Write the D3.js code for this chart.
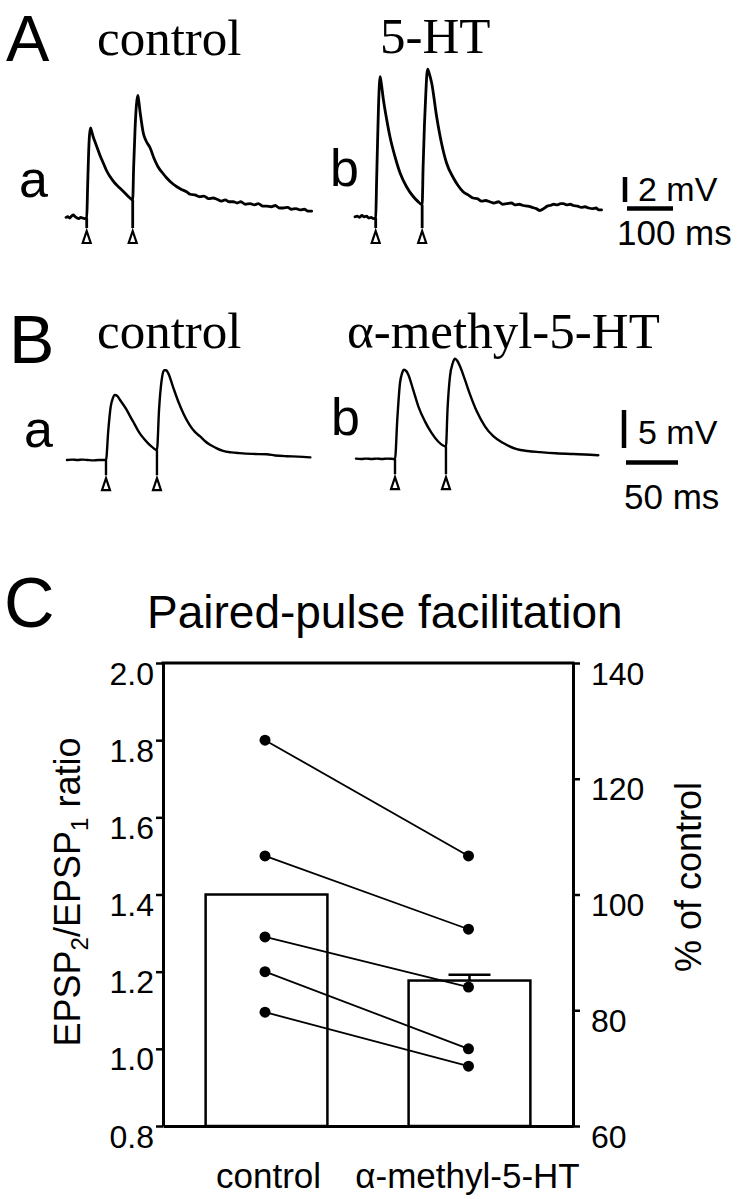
<!DOCTYPE html>
<html>
<head>
<meta charset="utf-8">
<script src="https://cdn.jsdelivr.net/npm/d3@7"></script>
<style>
  html, body { margin: 0; padding: 0; background: #fff; }
  svg { display: block; }
</style>
</head>
<body>
<script>
// ---------------- DATA ----------------
// Panel A traces: [time (ms), membrane potential (mV, relative to baseline)]
const traceAa = [
  [0,0.05],[4,0.1],[8,0.0],[12,0.15],[16,0.25],[20,0.1],[24,0.0],[28,-0.05],[32,0.05],[36,0.0],[40,-0.05],[45,0],
  [47,2.5],[49,5.0],[51,6.6],[53.5,7.2],
  [56,6.9],[60,6.4],[64,6.0],[68,5.6],[74,5.0],[81,4.4],[88,3.8],[96,3.3],[106,2.8],[117,2.4],[128,2.0],[139,1.6],[145,1.45],
  [147,4.0],[150,7.0],[153,9.0],[156,9.8],
  [158,9.4],[161,8.5],[164,7.7],[168,6.8],[175,6.1],[183,5.6],[191,4.8],[200,4.1],[210,3.6],[219,3.2],[230,2.8],[241,2.5],
  [250,2.3],[262,2.1],[270,1.9],[280,1.85],[291,1.7],[300,1.75],[310,1.55],[320,1.6],[328,1.5],[338,1.35],[346,1.45],
  [355,1.3],[364,1.3],[372,1.2],[380,1.3],[390,1.1],[400,1.15],[410,1.05],[418,1.15],[428,0.95],[436,0.95],[446,0.9],
  [455,1.0],[464,0.8],[472,0.8],[482,0.85],[490,0.7],[500,0.75],[509,0.65],[518,0.7],[526,0.55],[534,0.55]
];
const traceAb = [
  [0,0.1],[5,0.15],[10,0.05],[15,0.2],[20,0.1],[25,0.15],[30,0.0],[35,0.05],[40,-0.05],[45,0],
  [47,3],[49,6],[51,8.8],[53,10.7],[54.5,11.3],
  [57,10.8],[61.6,9.5],[68.8,7.9],[76,6.5],[87,4.9],[98,3.6],[112,2.5],[127,1.7],[136,1.35],[146,1.05],
  [148,4],[151,7.5],[154,10],[156,11.4],[158,11.9],
  [161,11.6],[166.7,10.8],[177.5,8.1],[188,6.0],[199,4.4],[214,3.2],[224,2.6],[235,2.1],[246,1.85],[257,1.6],[266,1.55],
  [275,1.35],[284,1.4],[293,1.3],[302,1.2],[312,1.3],[321,1.1],[330,1.15],[340,1.2],[348,1.05],[357,1.1],[366,1.0],
  [376,0.95],[385,0.85],[394,0.75],[402,0.6],[410,0.75],[418,0.95],[424,1.0],[432,1.1],[440,1.05],[447,1.15],[453,1.15],
  [460,1.05],[468,1.1],[475,1.0],[484,0.95],[492,0.85],[500,0.9],[508,0.8],[516,0.75],[524,0.8],[530,0.65],[536,0.65]
];
// Panel B traces
const traceBa = [
  [0,0],[5,0.05],[10,0],[15,0.05],[20,0],[25,-0.05],[30,0],[37.5,0],
  [39.7,3.9],[42,7.0],[44,8.1],[46,8.55],[48.5,8.4],[51,7.9],[54,7.3],[57.4,6.6],[60.5,5.8],[63.8,5.0],[67,4.2],[70,3.5],
  [74,2.8],[78,2.2],[82,1.7],[86.5,1.3],
  [88.5,6.6],[91,10.5],[93.3,11.8],[95.5,11.8],[97.4,11.4],[102,9.6],[107,7.7],[112,6.1],[118,4.6],[123,3.7],[128,3.1],
  [132.5,2.5],[137.5,2.0],[143,1.6],[150,1.2],[158,1.0],[166,0.9],[178,0.8],[192,0.75],[200,0.6],[211,0.5],[222,0.45],[234,0.35]
];
const traceBb = [
  [0,0.05],[5,0],[10,0.05],[15,0],[20,0.05],[25,0],[30,0.05],[37.5,0],
  [39.7,5.2],[42.3,10],[44.3,11.3],[46.2,11.75],[48.2,11.6],[50.3,11.1],[55,9.1],[60,6.9],[66.3,4.95],[72.8,3.4],[79,2.3],[86.5,1.65],
  [88,6.5],[90.4,10.9],[93,12.6],[95.2,13.2],[97.5,12.9],[100,12.2],[104.8,10.4],[109.6,8.5],[116,6.3],[124,4.3],[132,3.0],
  [141.6,2.1],[154.5,1.3],[165,1.05],[177,0.9],[192,0.75],[209,0.65],[220,0.6],[233,0.5]
];
// Stimulus times [ms, trace level at stimulus (mV)]
const stimAa = [[45,0],[145,1.45]];
const stimAb = [[45,0],[146,1.05]];
const stimBa = [[37.5,0],[86.5,1.3]];
const stimBb = [[37.5,0],[86.5,1.65]];
// Scale bars [ms, mV]
const scaleBarA = [100, 2];
const scaleBarB = [50, 5];

// Panel C
const groups = ["control", "α-methyl-5-HT"];
const barMeans = [1.40, 1.177];
const barErr = [0, 0.015];
const pairControl = [1.80, 1.50, 1.29, 1.20, 1.095];
const pairAlpha   = [1.50, 1.31, 1.16, 1.00, 0.955];
const leftTicks = [0.8, 1.0, 1.2, 1.4, 1.6, 1.8, 2.0];
const rightTicks = [60, 80, 100, 120, 140];

// ---------------- DRAW ----------------
const SANS = "'Liberation Sans', Arial, Helvetica, sans-serif";
const SERIF = "'Liberation Serif', 'Times New Roman', Times, serif";

const svg = d3.select("body").append("svg")
  .attr("width", 744).attr("height", 1199)
  .style("background", "#fff");

function txt(x, y, s, size, fam, anchor) {
  return svg.append("text").attr("x", x).attr("y", y)
    .attr("font-family", fam).attr("font-size", size)
    .attr("text-anchor", anchor || "start").attr("fill", "#000").text(s);
}

function drawTrace(data, stims, x0, y0, msPx, mvPx, artBottom, sw) {
  const xs = d3.scaleLinear().domain([0, 100]).range([x0, x0 + 100 * msPx]);
  const ys = d3.scaleLinear().domain([0, 10]).range([y0, y0 - 10 * mvPx]);
  const line = d3.line().x(d => xs(d[0])).y(d => ys(d[1])).curve(d3.curveMonotoneX);
  svg.append("path").attr("d", line(data))
    .attr("fill", "none").attr("stroke", "#000").attr("stroke-width", sw)
    .attr("stroke-linejoin", "round").attr("stroke-linecap", "round");
  stims.forEach(s => {
    const x = xs(s[0]);
    const yb = ys(artBottom);
    svg.append("line").attr("x1", x).attr("x2", x).attr("y1", ys(s[1])).attr("y2", yb)
      .attr("stroke", "#000").attr("stroke-width", sw);
    svg.append("path")
      .attr("d", `M${x},${yb + 3}L${x + 4},${yb + 15}L${x - 4},${yb + 15}Z`)
      .attr("fill", "#fff").attr("stroke", "#000").attr("stroke-width", 2.2)
      .attr("stroke-linejoin", "miter");
  });
  return { xs, ys };
}

function drawScaleBar(bar, xLeft, yBottomV, yH, msPx, mvPx) {
  const xs = d3.scaleLinear().domain([0, bar[0]]).range([xLeft, xLeft + bar[0] * msPx]);
  const ys = d3.scaleLinear().domain([0, bar[1]]).range([yBottomV, yBottomV - bar[1] * mvPx]);
  svg.append("line").attr("x1", xs(0) - 2).attr("x2", xs(0) - 2).attr("y1", ys(0)).attr("y2", ys(bar[1]))
    .attr("stroke", "#000").attr("stroke-width", 4.5);
  svg.append("line").attr("x1", xs(0)).attr("x2", xs(bar[0])).attr("y1", yH).attr("y2", yH)
    .attr("stroke", "#000").attr("stroke-width", 4.5);
}

// ---- Panel A ----
txt(6, 61, "A", 65, SANS);
txt(97, 55, "control", 51, SERIF);
txt(380, 53, "5-HT", 51, SERIF);
txt(19, 197, "a", 52, SANS);
txt(330, 186, "b", 52, SANS);
const A_ms = 0.46, A_mv = 12.5;
drawTrace(traceAa, stimAa, 66, 218, A_ms, A_mv, -0.8, 2.8);
drawTrace(traceAb, stimAb, 355, 218, A_ms, A_mv, -0.8, 2.8);
drawScaleBar(scaleBarA, 627, 202, 208.5, A_ms, A_mv);
txt(638, 201, "2 mV", 34, SANS);
txt(617, 245, "100 ms", 35, SANS);

// ---- Panel B ----
txt(9, 363, "B", 68, SANS);
txt(97, 348, "control", 51, SERIF);
txt(347, 348, "α-methyl-5-HT", 51, SERIF);
txt(24, 447, "a", 52, SANS);
txt(331, 435, "b", 52, SANS);
const B_ms = 1.04, B_mv = 7.6;
drawTrace(traceBa, stimBa, 67, 460, B_ms, B_mv, -2.0, 2.4);
drawTrace(traceBb, stimBb, 356, 459, B_ms, B_mv, -2.0, 2.4);
drawScaleBar(scaleBarB, 626, 448, 462.5, B_ms, B_mv);
txt(638, 444, "5 mV", 34, SANS);
txt(624, 509, "50 ms", 35, SANS);

// ---- Panel C ----
txt(4, 627, "C", 70, SANS);
txt(147, 628, "Paired-pulse facilitation", 46, SANS);

const yL = d3.scaleLinear().domain([0.8, 2.0]).range([1126, 663]);
const yR = d3.scaleLinear().domain([60, 140]).range([1126, 663]);
const xB = d3.scaleBand().domain(groups).range([163, 573]).paddingInner(0.4).paddingOuter(0.21);

// bars
const bw = xB.bandwidth();
groups.forEach((g, i) => {
  svg.append("rect").attr("x", xB(g)).attr("y", yL(barMeans[i]))
    .attr("width", bw).attr("height", yL(0.8) - yL(barMeans[i]))
    .attr("fill", "#fff").attr("stroke", "#000").attr("stroke-width", 2.5);
  if (barErr[i] > 0) {
    const cx = xB(g) + bw / 2;
    svg.append("line").attr("x1", cx).attr("x2", cx)
      .attr("y1", yL(barMeans[i])).attr("y2", yL(barMeans[i] + barErr[i]))
      .attr("stroke", "#000").attr("stroke-width", 2.5);
    svg.append("line").attr("x1", cx - 21).attr("x2", cx + 21)
      .attr("y1", yL(barMeans[i] + barErr[i])).attr("y2", yL(barMeans[i] + barErr[i]))
      .attr("stroke", "#000").attr("stroke-width", 2.5);
  }
});

// paired lines and dots
const cx0 = xB(groups[0]) + bw / 2 - 1.5;
const cx1 = xB(groups[1]) + bw / 2 - 1;
pairControl.forEach((v, i) => {
  svg.append("line").attr("x1", cx0).attr("y1", yL(v)).attr("x2", cx1).attr("y2", yL(pairAlpha[i]))
    .attr("stroke", "#000").attr("stroke-width", 1.8);
});
pairControl.forEach(v => svg.append("circle").attr("cx", cx0).attr("cy", yL(v)).attr("r", 5.5).attr("fill", "#000"));
pairAlpha.forEach(v => svg.append("circle").attr("cx", cx1).attr("cy", yL(v)).attr("r", 5.5).attr("fill", "#000"));

// axes
const axL = svg.append("g").attr("transform", "translate(163,0)")
  .call(d3.axisLeft(yL).tickValues(leftTicks).tickSize(7).tickSizeOuter(0).tickPadding(2).tickFormat(d3.format(".1f")));
const axR = svg.append("g").attr("transform", "translate(573,0)")
  .call(d3.axisRight(yR).tickValues(rightTicks).tickSize(7).tickSizeOuter(0).tickPadding(11).tickFormat(d3.format("d")));
const axB = svg.append("g").attr("transform", "translate(0,1126)")
  .call(d3.axisBottom(xB).tickSize(0).tickSizeOuter(0).tickPadding(0));
[axL, axR, axB].forEach(ax => {
  ax.select(".domain").attr("stroke", "#000").attr("stroke-width", 3);
  ax.selectAll(".tick line").attr("stroke", "#000").attr("stroke-width", 2.5);
  ax.selectAll("text").attr("fill", "#000").attr("font-family", SANS);
});
[axL, axR].forEach(ax => ax.selectAll(".tick text").attr("font-size", 32).attr("dy", "0.66em"));
axB.selectAll(".tick text").attr("font-size", 35).attr("y", 62).attr("dy", 0);
axB.selectAll(".tick").filter(d => d === groups[0]).attr("transform", `translate(${xB(groups[0]) + bw / 2 + 2},0)`);
axB.selectAll(".tick").filter(d => d === groups[1]).attr("transform", `translate(${xB(groups[1]) + bw / 2 - 2},0)`);
// top frame line
svg.append("line").attr("x1", 161.5).attr("x2", 574.5).attr("y1", yL(2.0)).attr("y2", yL(2.0))
  .attr("stroke", "#000").attr("stroke-width", 3);

// axis titles
const yl = svg.append("text").attr("transform", "translate(80,892) rotate(-90)")
  .attr("text-anchor", "middle").attr("font-family", SANS).attr("font-size", 36).attr("fill", "#000");
yl.append("tspan").text("EPSP");
yl.append("tspan").attr("font-size", 24).attr("dy", 8).text("2");
yl.append("tspan").attr("dy", -8).text("/EPSP");
yl.append("tspan").attr("font-size", 24).attr("dy", 8).text("1");
yl.append("tspan").attr("dy", -8).text(" ratio");

svg.append("text").attr("transform", "translate(701,877) rotate(-90)")
  .attr("text-anchor", "middle").attr("font-family", SANS).attr("font-size", 36).attr("fill", "#000")
  .text("% of control");
</script>
</body>
</html>
